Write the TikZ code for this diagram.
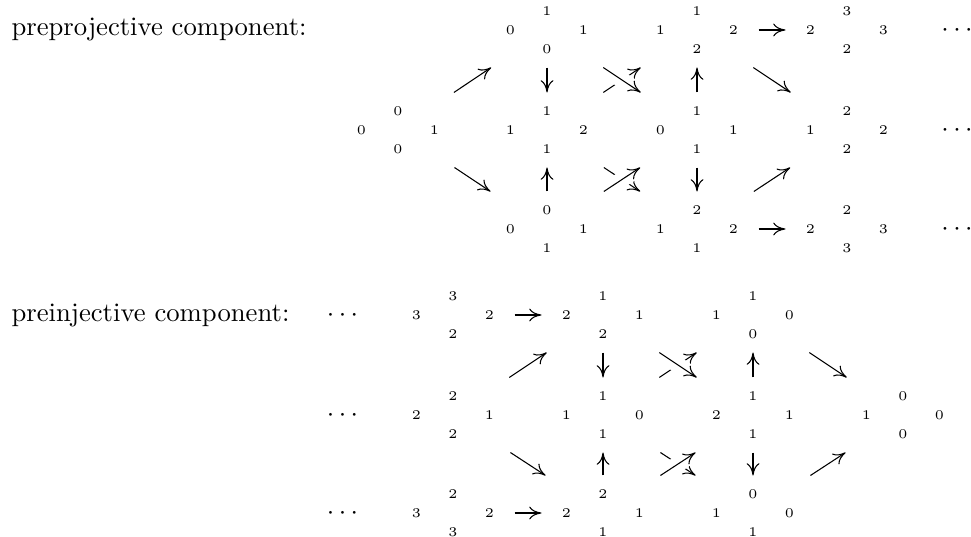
\documentclass[tikz,border=0pt]{standalone}
\usetikzlibrary{arrows.meta}
\tikzset{
  modbox/.style={draw=none, inner sep=0pt, minimum width=45.75pt, minimum height=27.75pt},
  dig/.style={inner sep=0pt, font=\tiny},
  lab/.style={inner sep=0pt, anchor=base west},
  dotsn/.style={inner sep=0pt, anchor=base},
  ar/.style={line width=0.4pt, -{Computer Modern Rightarrow[length=4.6pt,width=4.8pt]}},
  over/.style={preaction={draw=white, line width=6pt, arrows=-}}
}
\newcommand{\modu}[7]{%
  \node[modbox] (#1) at (#2,#3) {};
  \node[dig] (#1t) at (#2,#3-18.5) {#4};
  \node[dig] (#1l) at (#2-36.5,#3) {#5};
  \node[dig] (#1r) at (#2+36.5,#3) {#6};
  \node[dig] (#1b) at (#2,#3+19) {#7};
}
\begin{document}
\begin{tikzpicture}[x=0.375pt, y=-0.375pt]
\useasboundingbox (0,0) rectangle (971,537);
% labels
\node[lab] (L1) at (11,36) {preprojective component:};
\node[lab] (L2) at (11,321) {preinjective component:};
% preprojective
\modu{A1}{547}{30}{1}{0}{1}{0}
\modu{A2}{697}{30}{1}{1}{2}{2}
\modu{A3}{847}{30}{3}{2}{3}{2}
\modu{B0}{398}{130}{0}{0}{1}{0}
\modu{B1}{547}{130}{1}{1}{2}{1}
\modu{B2}{697}{130}{1}{0}{1}{1}
\modu{B3}{847}{130}{2}{1}{2}{2}
\modu{C1}{547}{229}{0}{0}{1}{1}
\modu{C2}{697}{229}{2}{1}{2}{1}
\modu{C3}{847}{229}{2}{2}{3}{3}
\node[dotsn] (DA) at (957,36.5) {$\cdots$};
\node[dotsn] (DB) at (957,136.5) {$\cdots$};
\node[dotsn] (DC) at (957,235.5) {$\cdots$};
% preinjective
\modu{D1}{453}{315}{3}{3}{2}{2}
\modu{D2}{603}{315}{1}{2}{1}{2}
\modu{D3}{753}{315}{1}{1}{0}{0}
\modu{E1}{453}{415}{2}{2}{1}{2}
\modu{E2}{603}{415}{1}{1}{0}{1}
\modu{E3}{753}{415}{1}{2}{1}{1}
\modu{E4}{903}{415}{0}{1}{0}{0}
\modu{F1}{453}{513}{2}{3}{2}{3}
\modu{F2}{603}{513}{2}{2}{1}{1}
\modu{F3}{753}{513}{0}{1}{0}{1}
\node[dotsn] (DD) at (342.5,321.5) {$\cdots$};
\node[dotsn] (DE) at (342.5,421.5) {$\cdots$};
\node[dotsn] (DF) at (342.5,519.5) {$\cdots$};
% preprojective arrows
\draw[ar] (B0) -- (A1);
\draw[ar] (B0) -- (C1);
\draw[ar] (A1) -- (B1);
\draw[ar] (C1) -- (B1);
\draw[ar] (B1) -- (A2);
\draw[ar] (B1) -- (C2);
\draw[ar,over] (A1) -- (B2);
\draw[ar,over] (C1) -- (B2);
\draw[ar] (B2) -- (A2);
\draw[ar] (B2) -- (C2);
\draw[ar] (A2) -- (B3);
\draw[ar] (C2) -- (B3);
\draw[ar] (A2) -- (A3);
\draw[ar] (C2) -- (C3);
% preinjective arrows
\draw[ar] (D1) -- (D2);
\draw[ar] (E1) -- (D2);
\draw[ar] (D2) -- (E2);
\draw[ar] (E2) -- (D3);
\draw[ar] (E2) -- (F3);
\draw[ar,over] (D2) -- (E3);
\draw[ar,over] (F2) -- (E3);
\draw[ar] (E3) -- (D3);
\draw[ar] (D3) -- (E4);
\draw[ar] (E1) -- (F2);
\draw[ar] (F2) -- (E2);
\draw[ar] (E3) -- (F3);
\draw[ar] (F3) -- (E4);
\draw[ar] (F1) -- (F2);
\end{tikzpicture}
\end{document}
